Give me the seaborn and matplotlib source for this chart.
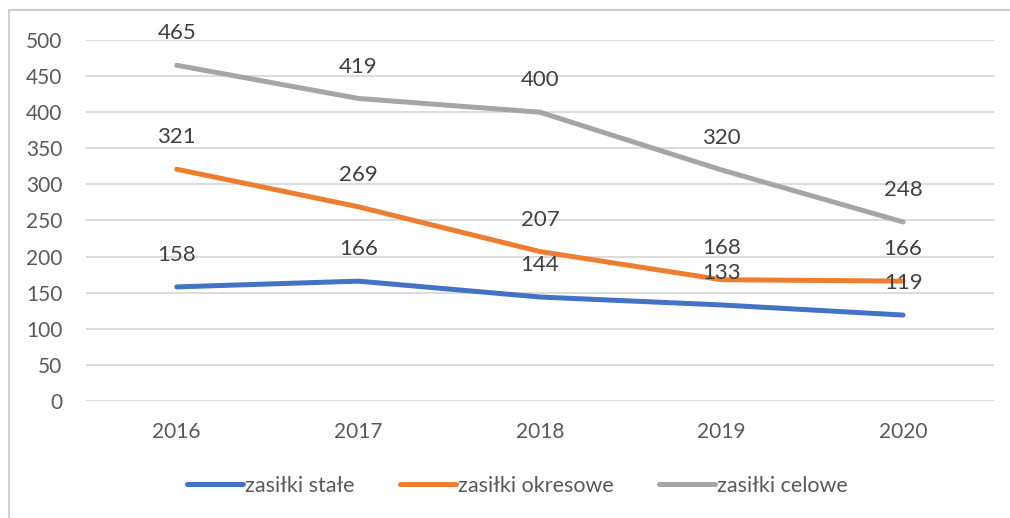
import pandas as pd
import matplotlib.pyplot as plt
import seaborn as sns
from matplotlib.lines import Line2D

years = [2016, 2017, 2018, 2019, 2020]
stale = [158, 166, 144, 133, 119]
okresowe = [321, 269, 207, 168, 166]
celowe = [465, 419, 400, 320, 248]
series_names = ["zasiłki stałe", "zasiłki okresowe", "zasiłki celowe"]
colors = ["#4472C4", "#ED7D31", "#A5A5A5"]

df = pd.DataFrame({"rok": years * 3,
                   "wartosc": stale + okresowe + celowe,
                   "seria": sum([[n] * len(years) for n in series_names], [])})

sns.set_style("white")
plt.rcParams["font.family"] = ["Lato", "DejaVu Sans"]

fig = plt.figure(figsize=(10.1, 5.18), dpi=100)
ax = fig.add_axes([0.0851, 0.2259, 0.984 - 0.0851, 0.9228 - 0.2259])

sns.lineplot(data=df, x="rok", y="wartosc", hue="seria", hue_order=series_names,
             palette=colors, linewidth=3.6, ax=ax, legend=False)

# data labels above points
for vals in [stale, okresowe, celowe]:
    for x, v in zip(years, vals):
        ax.annotate(str(v), (x, v), xytext=(0, 23), textcoords="offset points",
                    ha="center", va="center", fontsize=16, color="#404040")

ax.set_xlim(2015.5, 2020.5)
ax.set_ylim(0, 500)
ax.set_yticks(range(0, 501, 50))
ax.set_xticks(years)
ax.set_xticklabels([str(y) for y in years])
ax.grid(axis="y", color="#D9D9D9", linewidth=1.3)
ax.set_axisbelow(True)
for s in ax.spines.values():
    s.set_visible(False)
ax.tick_params(axis="both", length=0, labelsize=15, labelcolor="#595959")
ax.tick_params(axis="y", pad=17)
ax.tick_params(axis="x", pad=15)
ax.set_xlabel("")
ax.set_ylabel("")

handles = [Line2D([0], [0], color=c, linewidth=3.6) for c in colors]
fig.legend(handles, series_names, loc="center", bbox_to_anchor=(0.512, 0.062),
           ncol=3, frameon=False, fontsize=15.5, handlelength=2.6, handletextpad=0.1,
           columnspacing=2.1, labelcolor="#595959")

# chart frame (left and top edges)
fig.add_artist(Line2D([9 / 1010, 9 / 1010], [0, 1 - 10 / 518], color="#D0D0D0", lw=1.5))
fig.add_artist(Line2D([9 / 1010, 1], [1 - 10 / 518, 1 - 10 / 518], color="#D0D0D0", lw=1.5))

fig.savefig("out.png", dpi=100)
